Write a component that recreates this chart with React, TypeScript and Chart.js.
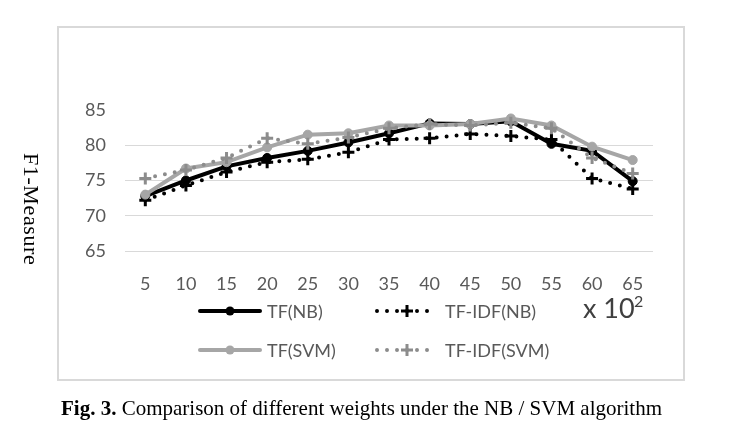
import React, { useEffect, useRef } from "react";
import { Chart, registerables } from "chart.js";

Chart.register(...registerables);

const categories = ["5", "10", "15", "20", "25", "30", "35", "40", "45", "50", "55", "60", "65"];
const tfNB = [72.8, 75.0, 77.0, 78.2, 79.2, 80.4, 81.7, 83.1, 83.0, 83.4, 80.2, 79.2, 74.9];
const tfidfNB = [72.2, 74.3, 76.2, 77.6, 78.0, 79.0, 80.8, 81.0, 81.6, 81.3, 80.8, 75.3, 73.8];
const tfSVM = [73.0, 76.7, 77.6, 79.7, 81.5, 81.7, 82.8, 82.8, 83.0, 83.8, 82.8, 79.8, 77.9];
const tfidfSVM = [75.3, 76.5, 78.2, 81.0, 80.2, 81.1, 82.4, 83.0, 82.8, 83.2, 82.4, 78.2, 76.0];
const seriesNames = ["TF(NB)", "TF-IDF(NB)", "TF(SVM)", "TF-IDF(SVM)"];
const yMin = 65;
const yMax = 85;
const yStep = 5;

const BLACK = "#000000";
const LIGHT = "#a6a6a6";
const MID = "#8c8c8c";
const TEXT = "#595959";

function drawMarker(ctx: CanvasRenderingContext2D, style: string, x: number, y: number, r: number, color: string, bw: number) {
  ctx.save();
  ctx.setLineDash([]);
  ctx.fillStyle = color;
  ctx.strokeStyle = color;
  ctx.lineWidth = bw;
  ctx.beginPath();
  if (style === "circle") {
    ctx.arc(x, y, r, 0, Math.PI * 2);
    ctx.fill();
  } else {
    ctx.moveTo(x - r, y);
    ctx.lineTo(x + r, y);
    ctx.moveTo(x, y - r);
    ctx.lineTo(x, y + r);
    ctx.stroke();
  }
  ctx.restore();
}

const framePlugin = {
  id: "frame",
  beforeDraw(chart: any) {
    const ctx = chart.ctx;
    ctx.save();
    ctx.fillStyle = "#ffffff";
    ctx.fillRect(0, 0, chart.width, chart.height);
    ctx.strokeStyle = "#d9d9d9";
    ctx.lineWidth = 2;
    ctx.strokeRect(58, 27, 626, 353);
    ctx.restore();
  },
};

const legendPlugin = {
  id: "customLegend",
  afterDraw(chart: any) {
    const ctx = chart.ctx;
    const items = [
      { i: 0, x0: 200, x1: 260, tx: 267, y: 311 },
      { i: 1, x0: 377, x1: 437, tx: 445, y: 311 },
      { i: 2, x0: 200, x1: 260, tx: 267, y: 350 },
      { i: 3, x0: 377, x1: 437, tx: 445, y: 350 },
    ];
    items.forEach((it) => {
      const ds = chart.data.datasets[it.i];
      ctx.save();
      ctx.strokeStyle = ds.borderColor;
      ctx.lineWidth = ds.borderWidth;
      ctx.lineCap = "round";
      ctx.setLineDash(ds.borderDash || []);
      ctx.beginPath();
      ctx.moveTo(it.x0, it.y);
      ctx.lineTo(it.x1, it.y);
      ctx.stroke();
      ctx.restore();
      drawMarker(ctx, ds.pointStyle, (it.x0 + it.x1) / 2, it.y, ds.pointRadius, ds.pointBackgroundColor, ds.pointBorderWidth);
      ctx.save();
      ctx.fillStyle = TEXT;
      ctx.font = "18px Lato";
      ctx.textBaseline = "middle";
      ctx.textAlign = "left";
      ctx.fillText(ds.label, it.tx, it.y + 1);
      ctx.restore();
    });
    ctx.save();
    ctx.fillStyle = "#404040";
    ctx.textBaseline = "alphabetic";
    ctx.font = "27px Lato";
    ctx.fillText("x 10", 583, 318);
    ctx.font = "16px Lato";
    ctx.fillText("2", 634, 307);
    ctx.restore();
  },
};

export default function App() {
  const ref = useRef<HTMLCanvasElement>(null);
  useEffect(() => {
    if (!ref.current) return;
    const tickFont = { family: "Lato", size: 18 };
    const chart = new Chart(ref.current, {
      type: "line",
      data: {
        labels: categories,
        datasets: [
          {
            label: seriesNames[0], data: tfNB, borderColor: BLACK, backgroundColor: BLACK,
            borderWidth: 4, pointStyle: "circle", pointRadius: 4.5, pointBackgroundColor: BLACK,
            pointBorderColor: BLACK, pointBorderWidth: 1, order: 3,
          },
          {
            label: seriesNames[1], data: tfidfNB, borderColor: BLACK, backgroundColor: BLACK,
            borderWidth: 4, borderDash: [0, 10], borderCapStyle: "round", pointStyle: "cross", pointRadius: 6,
            pointBackgroundColor: BLACK, pointBorderColor: BLACK, pointBorderWidth: 3, order: 2,
          },
          {
            label: seriesNames[2], data: tfSVM, borderColor: LIGHT, backgroundColor: LIGHT,
            borderWidth: 4, pointStyle: "circle", pointRadius: 4.5, pointBackgroundColor: LIGHT,
            pointBorderColor: LIGHT, pointBorderWidth: 1, order: 1,
          },
          {
            label: seriesNames[3], data: tfidfSVM, borderColor: MID, backgroundColor: MID,
            borderWidth: 4, borderDash: [0, 10], borderCapStyle: "round", pointStyle: "cross", pointRadius: 6,
            pointBackgroundColor: MID, pointBorderColor: MID, pointBorderWidth: 3, order: 0,
          },
        ] as any,
      },
      options: {
        animation: false,
        responsive: false,
        layout: { padding: { left: 0, top: 110, right: 84, bottom: 143 } },
        plugins: { legend: { display: false }, tooltip: { enabled: false } },
        scales: {
          x: {
            offset: true,
            grid: { display: false },
            border: { display: false },
            ticks: { color: TEXT, font: tickFont, padding: 14, maxRotation: 0, autoSkip: false },
            afterFit: (s: any) => { s.height = 40; },
          },
          y: {
            min: yMin,
            max: yMax,
            border: { display: false },
            grid: {
              drawTicks: false,
              lineWidth: 1,
              color: (c: any) => (c.tick && c.tick.value === yMax ? "rgba(0,0,0,0)" : "#d9d9d9"),
            },
            ticks: { stepSize: yStep, color: TEXT, font: tickFont, padding: 19 },
            afterFit: (s: any) => { s.width = 125; },
          },
        },
      } as any,
      plugins: [framePlugin, legendPlugin],
    });
    return () => chart.destroy();
  }, []);

  return (
    <div style={{ position: "fixed", left: 0, top: 0, width: 737, height: 434, background: "#fff", overflow: "hidden" }}>
      <canvas ref={ref} width={737} height={434} style={{ position: "absolute", left: 0, top: 0, width: 737, height: 434 }} />
      <div
        style={{
          position: "absolute", left: 19, top: 153, width: 25, writingMode: "vertical-rl",
          fontFamily: "'Liberation Serif', 'Times New Roman', serif", fontSize: 22, letterSpacing: 0.6,
          lineHeight: "25px", color: "#000", whiteSpace: "nowrap",
        }}
      >
        F1-Measure
      </div>
      <div
        style={{
          position: "absolute", left: 61, top: 396, fontFamily: "'Liberation Serif', 'Times New Roman', serif",
          fontSize: 21, lineHeight: "24px", color: "#000", whiteSpace: "nowrap",
        }}
      >
        <b>Fig. 3.</b> Comparison of different weights under the NB / SVM algorithm
      </div>
    </div>
  );
}
